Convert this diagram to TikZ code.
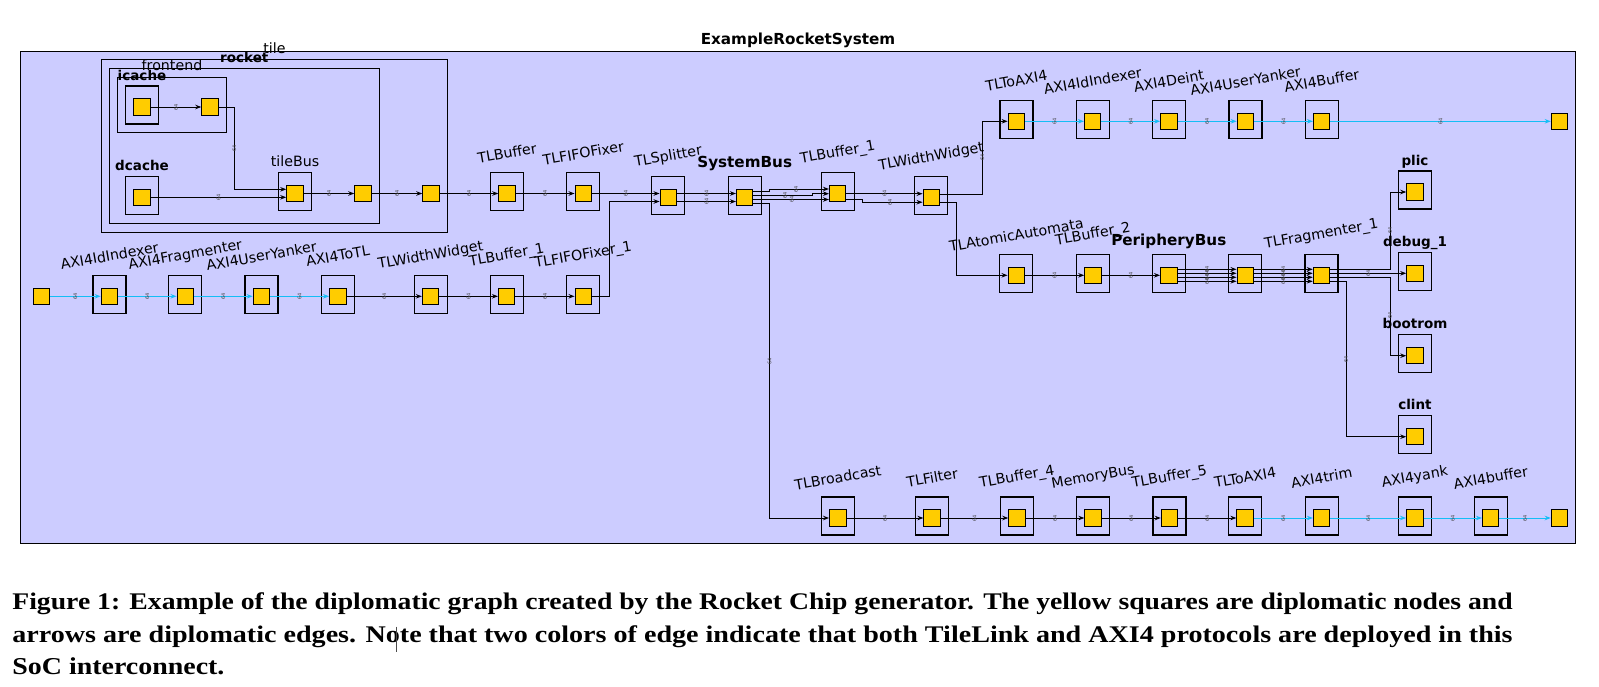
\documentclass[tikz,border=0pt]{standalone}
\usepackage{graphicx}
\usepackage{fontspec}
\setmainfont{DejaVu Sans}
\newfontfamily\capfont{Liberation Serif}
\usetikzlibrary{arrows.meta,calc}
\definecolor{lav}{RGB}{204,204,255}
\definecolor{dyel}{RGB}{255,204,0}
\definecolor{dcyan}{RGB}{20,190,245}
\definecolor{labgray}{RGB}{70,70,70}
\newcommand\labfont{\fontsize{14.2pt}{16pt}\selectfont}
\newcommand\blabfont{\fontsize{13.5pt}{15pt}\selectfont\bfseries}
\newcommand\buslabfont{\fontsize{15.2pt}{17pt}\selectfont\bfseries}
\newcommand\elabfont{\fontsize{5pt}{5pt}\selectfont}
\newcommand\mkmod[4]{\node[modbox] (#1b) at (#2,#3-2) {};\node[ysq] (#1) at (#2,#3) {};\node[rlab] (#1l) at (#2,#3-40.5) {#4};}
\newcommand\mkmodb[6]{\node[modbox] (#1b) at (#2,#3-2) {};\node[ysq] (#1) at (#2,#3) {};\node[#6] (#1l) at (#2,#3-21-#5) {#4};}
\newcommand\mksq[3]{\node[ysq] (#1) at (#2,#3) {};}
\begin{document}
\begin{tikzpicture}[x=1pt,y=-1pt,
  ysq/.style={draw, line width=1pt, fill=dyel, minimum size=16.5pt, inner sep=0pt},
  modbox/.style={draw, line width=1.2pt, minimum width=33pt, minimum height=38pt, inner sep=0pt},
  cont/.style={draw, line width=1.2pt, inner sep=0pt},
  tl/.style={draw=black, line width=1pt, -{Stealth[length=6pt,width=4.5pt]}},
  axi/.style={draw=dcyan, line width=1pt, -{Stealth[length=6pt,width=4.5pt]}},
  elab/.style={font=\elabfont, text=labgray, rotate=90, inner sep=0pt},
  rlab/.style={font=\labfont, rotate=10, inner sep=0pt},
  nlab/.style={font=\labfont, anchor=base, inner sep=0pt},
  blab/.style={font=\blabfont, anchor=base, inner sep=0pt},
  buslab/.style={font=\buslabfont, anchor=base, inner sep=0pt}]
\useasboundingbox (0,0) rectangle (1599,686);
\fill[white] (0,0) rectangle (1599,686);
\node[draw, line width=1.2pt, fill=lav, minimum width=1554.6pt, minimum height=492pt, inner sep=0pt] (sys) at (798,297.5) {};
\node[buslab] (systitle) at (798,44) {ExampleRocketSystem};
% tile containers
\node[cont, minimum width=345.6pt, minimum height=173.2pt] (tile) at (274.5,145.9) {};
\node[nlab] (tilel) at (274.5,53.3) {tile};
\node[cont, minimum width=270pt, minimum height=155pt] (rocket) at (244.3,145.8) {};
\node[blab] (rocketl) at (244.3,62) {rocket};
\node[cont, minimum width=109.4pt, minimum height=55pt] (frontend) at (172,104.8) {};
\node[nlab] (frontendl) at (172,70.8) {frontend};
\mkmodb{ic}{142}{107}{icache}{6}{blab}
\mksq{ictwo}{210}{107}
\mkmodb{dc}{142}{197.3}{dcache}{6}{blab}
\mkmodb{tbus}{295}{193.5}{tileBus}{6.5}{nlab}
\mksq{tttwo}{363}{193.5}
\mksq{ttthree}{431}{193.5}
% main row
\mkmod{tlbuf}{507}{193.5}{TLBuffer}
\mkmod{tlfifo}{583.3}{193.5}{TLFIFOFixer}
\mkmod{spl}{668.3}{197.5}{TLSplitter}
\mkmodb{sb}{744.7}{197.5}{SystemBus}{9}{buslab}
\mkmod{tbone}{837.7}{193.7}{TLBuffer\_1}
\mkmod{tww}{931.3}{197.7}{TLWidthWidget}
% top row
\mkmod{ttoa}{1016.4}{121.3}{TLToAXI4}
\mkmod{aid}{1092.7}{121.3}{AXI4IdIndexer}
\mkmod{adi}{1168.9}{121.3}{AXI4Deint}
\mkmod{auy}{1245.4}{121.3}{AXI4UserYanker}
\mkmod{abuf}{1321.7}{121.3}{AXI4Buffer}
\mksq{tend}{1559.5}{121.3}
% periphery row
\mkmod{taa}{1016.3}{275.3}{TLAtomicAutomata}
\mkmod{tbtwo}{1093}{275.3}{TLBuffer\_2}
\mkmodb{pb}{1168.8}{275.3}{PeripheryBus}{9}{buslab}
\node[modbox] (pbtwob) at (1245.3,273.3) {};
\node[ysq] (pbtwo) at (1245.3,275.3) {};
\mkmod{tfr}{1321.5}{275.3}{TLFragmenter\_1}
\mkmodb{plic}{1415}{192}{plic}{6}{blab}
\mkmodb{dbg}{1415}{273.3}{debug\_1}{6}{blab}
\mkmodb{brom}{1415}{355.7}{bootrom}{6}{blab}
\mkmodb{clint}{1415}{436.7}{clint}{6}{blab}
% left row
\mksq{src}{41.4}{296.3}
\mkmod{laid}{109.4}{296.3}{AXI4IdIndexer}
\mkmod{lafr}{185.3}{296.3}{AXI4Fragmenter}
\mkmod{lauy}{261.4}{296.3}{AXI4UserYanker}
\mkmod{latl}{337.8}{296.3}{AXI4ToTL}
\mkmod{lww}{430.6}{296.3}{TLWidthWidget}
\mkmod{lbone}{506.7}{296.3}{TLBuffer\_1}
\mkmod{lff}{583.3}{296.3}{TLFIFOFixer\_1}
% bottom row
\mkmod{bbc}{837.8}{518}{TLBroadcast}
\mkmod{bfi}{932.1}{518}{TLFilter}
\mkmod{bbf}{1017}{518}{TLBuffer\_4}
\mkmod{bmb}{1093.1}{518}{MemoryBus}
\mkmod{bbg}{1169.5}{518}{TLBuffer\_5}
\mkmod{bta}{1245.1}{518}{TLToAXI4}
\mkmod{btr}{1321.6}{518}{AXI4trim}
\mkmod{bya}{1414.8}{518}{AXI4yank}
\mkmod{bab}{1490.7}{518}{AXI4buffer}
\mksq{bend}{1559.5}{518}
% edges: tile
\draw[tl] (ic) -- node[elab]{64} (ictwo);
\draw[tl] (ictwo.east) -- ++(16,0) |- ($(tbus.west)+(0,-4.2)$);
\node[elab] (ea) at (234.25,148) {64};
\draw[tl] (dc) -- node[elab]{64} ($(tbus.west)+(0,3.8)$);
\draw[tl] (tbus) -- node[elab]{64} (tttwo);
\draw[tl] (tttwo) -- node[elab]{64} (ttthree);
\draw[tl] (ttthree) -- node[elab]{64} (tlbuf);
\draw[tl] (tlbuf) -- node[elab]{64} (tlfifo);
\draw[tl] (tlfifo) -- node[elab]{64} ($(spl.west)+(0,-4)$);
\draw[tl] (lff.east) -- ++(17,0) |- ($(spl.west)+(0,4)$);
\draw[tl] ($(spl.east)+(0,-4)$) -- node[elab]{64} ($(sb.west)+(0,-4)$);
\draw[tl] ($(spl.east)+(0,4)$) -- node[elab]{64} ($(sb.west)+(0,4)$);
% SystemBus outputs
\draw[tl] ($(sb.east)+(0,-6.5)$) -- ++(16.5,0) |- ($(tbone.west)+(0,-4.7)$);
\node[elab] (eb) at (796,189) {64};
\draw[tl] ($(sb.east)+(0,-2)$) -| ($(tbone.west)+(-16.5,0)$) -- (tbone.west);
\node[elab] (ec) at (785,195.5) {64};
\draw[tl] ($(sb.east)+(0,2)$) -- ($(tbone.west)+(0,5.8)$);
\node[elab] (ed) at (791.7,199.5) {64};
\draw[tl] ($(sb.east)+(0,5.5)$) -- ++(16.5,0) |- (bbc.west);
\node[elab] (ee) at (769.45,361.7) {64};
% TLBuffer_1 -> TLWidthWidget
\draw[tl] (tbone) -- node[elab]{64} ($(tww.west)+(0,-4)$);
\draw[tl] ($(tbone.east)+(0,5.3)$) -- ++(16.3,0) |- ($(tww.west)+(0,4.5)$);
\node[elab] (ef) at (890,202.2) {64};
\draw[tl] ($(tww.east)+(0,-3.7)$) -- ++(42.75,0) |- (ttoa.west);
\node[elab] (eg) at (982.3,157) {64};
\draw[tl] ($(tww.east)+(0,4.6)$) -- ++(16.5,0) |- (taa.west);
% top AXI row
\draw[axi] (ttoa) -- node[elab]{64} (aid);
\draw[axi] (aid) -- node[elab]{64} (adi);
\draw[axi] (adi) -- node[elab]{64} (auy);
\draw[axi] (auy) -- node[elab]{64} (abuf);
\draw[axi] (abuf) -- node[elab]{64} (tend);
% periphery
\draw[tl] (taa) -- node[elab]{64} (tbtwo);
\draw[tl] (tbtwo) -- node[elab]{64} (pb);
\foreach \o in {-6,-2,2,6} {
  \draw[tl] ($(pb.east)+(0,\o)$) -- node[elab]{64} ($(pbtwo.west)+(0,\o)$);
  \draw[tl] ($(pbtwo.east)+(0,\o)$) -- node[elab]{64} ($(tfr.west)+(0,\o)$);
}
\draw[tl] ($(tfr.east)+(0,-6)$) -- ++(60.25,0) |- (plic.west);
\node[elab] (eh) at (1390,230.7) {64};
\draw[tl] ($(tfr.east)+(0,-2)$) -- node[elab]{64} (dbg.west);
\draw[tl] ($(tfr.east)+(0,2)$) -- ++(60.25,0) |- (brom.west);
\node[elab] (ei) at (1390,315.7) {64};
\draw[tl] ($(tfr.east)+(0,6)$) -- ++(16.25,0) |- (clint.west);
\node[elab] (ej) at (1346,359) {64};
% left row
\draw[axi] (src) -- node[elab]{64} (laid);
\draw[axi] (laid) -- node[elab]{64} (lafr);
\draw[axi] (lafr) -- node[elab]{64} (lauy);
\draw[axi] (lauy) -- node[elab]{64} (latl);
\draw[tl] (latl) -- node[elab]{64} (lww);
\draw[tl] (lww) -- node[elab]{64} (lbone);
\draw[tl] (lbone) -- node[elab]{64} (lff);
% bottom row
\draw[tl] (bbc) -- node[elab]{64} (bfi);
\draw[tl] (bfi) -- node[elab]{64} (bbf);
\draw[tl] (bbf) -- node[elab]{64} (bmb);
\draw[tl] (bmb) -- node[elab]{64} (bbg);
\draw[tl] (bbg) -- node[elab]{64} (bta);
\draw[axi] (bta) -- node[elab]{64} (btr);
\draw[axi] (btr) -- node[elab]{64} (bya);
\draw[axi] (bya) -- node[elab]{64} (bab);
\draw[axi] (bab) -- node[elab]{64} (bend);
% caption
\node[anchor=base west, inner sep=0pt] (capa) at (12.2,609) {\capfont\bfseries\resizebox{1500pt}{16.8pt}{Figure 1: Example of the diplomatic graph created by the Rocket Chip generator. The yellow squares are diplomatic nodes and}};
\node[anchor=base west, inner sep=0pt] (capb) at (12.2,642.5) {\capfont\bfseries\resizebox{1500pt}{16.8pt}{arrows are diplomatic edges. Note that two colors of edge indicate that both TileLink and AXI4 protocols are deployed in this}};
\node[anchor=base west, inner sep=0pt] (capc) at (12.2,674) {\capfont\bfseries\resizebox{212pt}{16.8pt}{SoC interconnect.}};
\draw[line width=0.9pt, black!70] (396,626.7) -- (396,651.7);
\end{tikzpicture}
\end{document}
